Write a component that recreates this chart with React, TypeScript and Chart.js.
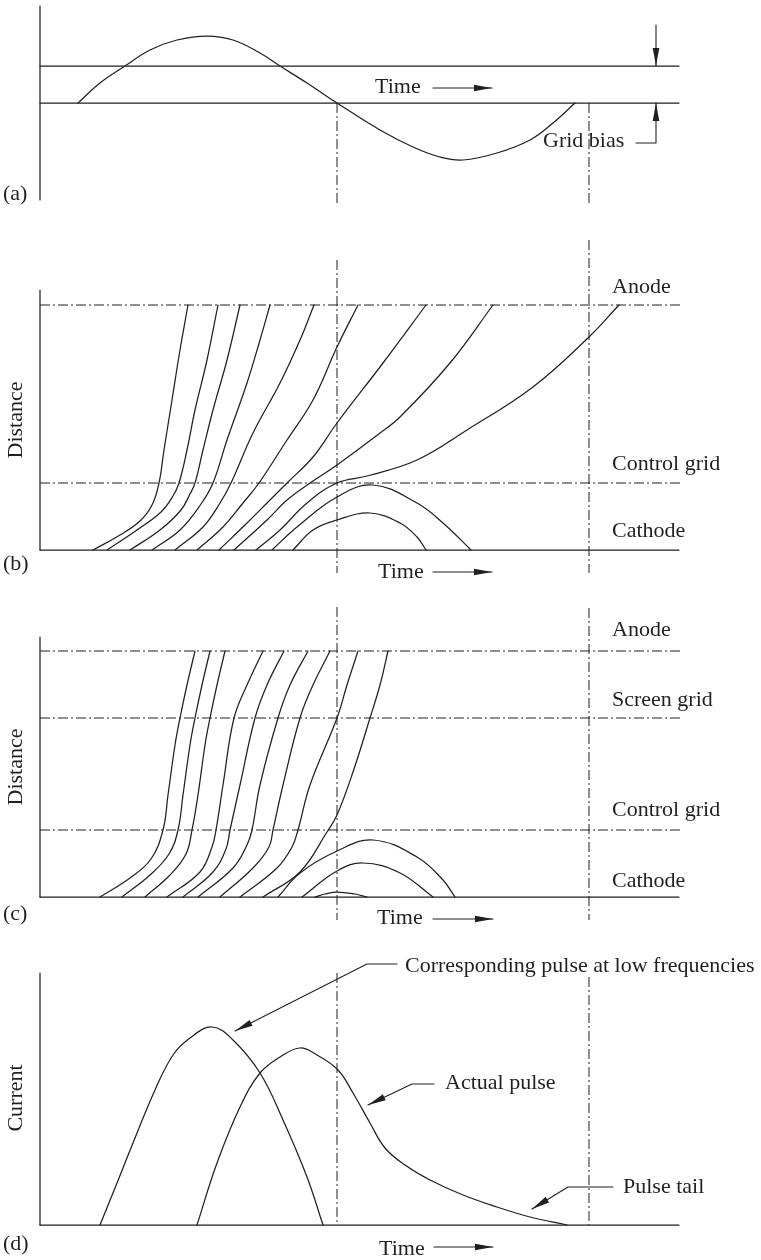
import React, { useEffect, useRef } from "react";
import { Chart, registerables } from "chart.js";

Chart.register(...registerables);

// ---------- shared ----------
const INK = "#231f20";
const FONT = '22px "Liberation Serif", "DejaVu Serif", serif';
const DASH = [10, 3, 2, 3];
const TIME_END = 639; // end of time axis (time units)
const MARKER_TIMES = [297, 549]; // dash-dot time markers

// ---------- panel (a): grid voltage ----------
const gridVoltageA = [
  [38, 0], [60, 20], [85, 37], [110, 53], [137, 63], [167, 67], [193, 63], [220, 50],
  [240, 37], [267, 20], [297, 0], [340, -27], [373, -44], [400, -54], [423, -57],
  [457, -50], [490, -37], [513, -20], [535, 0],
];
const cutoffLevelA = 37;
const biasLevelA = 0;
const axisSpanA = [97, -97];
const markerSpanA = [0, -101];
const arrowDownA = [[616, 78], [616, cutoffLevelA]];
const gridBiasLeaderA = [[596, -40], [616, -40], [616, biasLevelA]];
const timeArrowA = [[393, 15], [452, 15]];

// ---------- panel (b): triode electron trajectories ----------
const anodeB = 245;
const controlB = 67;
const axisTopB = 260;
const markerTopB = [290, 310];
const trajectoriesB = [
  [[53, 0], [80, 15], [100, 29], [112, 45], [119, 67], [124, 100], [132, 150], [140, 200], [148, 245]],
  [[67, 0], [97, 20], [121, 38], [133, 54], [139, 67], [147, 100], [155, 140], [167, 190], [178, 245]],
  [[90, 0], [120, 20], [141, 40], [150, 56], [155, 67], [163, 100], [173, 140], [187, 190], [200, 245]],
  [[112, 0], [140, 20], [161, 46], [173, 67], [187, 110], [207, 167], [220, 210], [230, 245]],
  [[135, 0], [163, 23], [180, 47], [191, 67], [213, 117], [240, 167], [260, 210], [274, 245]],
  [[157, 0], [183, 23], [203, 47], [219, 67], [247, 110], [273, 150], [297, 203], [318, 245]],
  [[179, 0], [207, 27], [227, 47], [247, 67], [273, 93], [297, 127], [343, 187], [386, 245]],
  [[194, 0], [227, 30], [247, 50], [270, 67], [297, 85], [340, 117], [360, 133], [410, 187], [453, 245]],
  [[216, 0], [240, 20], [267, 47], [297, 67], [327, 74], [377, 90], [427, 120], [493, 163], [549, 213], [579, 245]],
];
const returningB = [
  [[232, 0], [257, 23], [297, 53], [333, 65], [377, 47], [403, 27], [431, 0]],
  [[253, 0], [273, 20], [297, 30], [330, 37], [360, 27], [377, 13], [386, 0]],
];
const timeArrowB = [[393, -22], [452, -22]];

// ---------- panel (c): pentode electron trajectories ----------
const anodeC = 246;
const screenC = 179;
const controlC = 67;
const axisTopC = 260;
const markerTopC = [290, 289];
const trajectoriesC = [
  [[60, 0], [90, 19], [111, 38], [123, 67], [128, 102], [135, 152], [140, 179], [147, 212], [155, 246]],
  [[82, 0], [110, 22], [129, 43], [138, 67], [143, 102], [150, 152], [155, 179], [162, 212], [170, 246]],
  [[105, 0], [130, 22], [146, 43], [152, 67], [158, 102], [165, 152], [170, 179], [177, 212], [185, 246]],
  [[127, 0], [160, 25], [172, 50], [176, 67], [183, 112], [194, 179], [207, 212], [223, 246]],
  [[143, 0], [173, 25], [186, 48], [190, 67], [200, 112], [215, 179], [227, 212], [244, 246]],
  [[158, 0], [193, 29], [207, 52], [212, 67], [220, 112], [238, 179], [250, 212], [268, 246]],
  [[180, 0], [213, 29], [229, 50], [233, 67], [243, 112], [260, 179], [273, 212], [290, 246]],
  [[200, 0], [237, 29], [252, 50], [258, 67], [270, 112], [297, 179], [307, 212], [318, 246]],
  [[223, 0], [260, 25], [287, 65], [297, 82], [313, 125], [330, 179], [340, 212], [348, 246]],
];
const returningC = [
  [[238, 0], [260, 24], [297, 46], [333, 57], [377, 40], [403, 17], [415, 0]],
  [[262, 0], [297, 26], [323, 34], [360, 24], [393, 0]],
  [[275, 0], [285, 3], [297, 5], [315, 3], [327, 0]],
];
const timeArrowC = [[393, -22], [453, -22]];

// ---------- panel (d): current pulses ----------
const axisTopD = 252;
const markerTopD = [252, 248];
const lowFreqPulse = [
  [60, 0], [77, 42], [93, 82], [115, 135], [133, 170], [150, 187], [172, 198],
  [193, 185], [220, 152], [243, 105], [267, 48], [283, 0],
];
const actualPulse = [
  [157, 0], [177, 62], [200, 118], [220, 152], [240, 168], [260, 177], [277, 170],
  [298, 155], [313, 132], [330, 102], [345, 77], [365, 60], [390, 45], [423, 30],
  [457, 18], [490, 8], [527, 0],
];
const leaderLowFreq = [[357, 261], [327, 261], [195, 194]];
const leaderActual = [[394, 141], [372, 141], [328, 120]];
const leaderTail = [[573, 38], [528, 38], [492, 16]];
const timeArrowD = [[394, -22], [453, -22]];

// ---------- helpers ----------
type Label = { text: string; x: number; y: number; rotate?: boolean };
const toPts = (arr: number[][]) => arr.map(([x, y]) => ({ x, y }));

const solid = (data: number[][], smooth = false, width = 1.25): any => ({
  data: toPts(data),
  borderColor: INK,
  borderWidth: width,
  pointRadius: 0,
  fill: false,
  tension: smooth ? 0.4 : 0,
  borderCapStyle: "round",
  borderJoinStyle: "round",
});
const dashed = (data: number[][]): any => ({
  ...solid(data, false, 1),
  borderDash: DASH,
  borderCapStyle: "butt",
});
const arrow = (data: number[][]): any => ({ ...solid(data, false, 1.1), arrowHead: true });
const hLine = (v: number) => [[0, v], [TIME_END, v]];
const hDash = (v: number) => [[0, v], [TIME_END + 1, v]];

const arrowPlugin = {
  id: "arrowHeads",
  afterDatasetsDraw(chart: any) {
    const ctx = chart.ctx;
    chart.data.datasets.forEach((ds: any, i: number) => {
      if (!ds.arrowHead) return;
      const pts = chart.getDatasetMeta(i).data;
      const a = pts[pts.length - 2];
      const b = pts[pts.length - 1];
      const ang = Math.atan2(b.y - a.y, b.x - a.x);
      ctx.save();
      ctx.translate(b.x, b.y);
      ctx.rotate(ang);
      ctx.beginPath();
      ctx.moveTo(0, 0);
      ctx.lineTo(-18, -3.3);
      ctx.lineTo(-18, 3.3);
      ctx.closePath();
      ctx.fillStyle = INK;
      ctx.fill();
      ctx.restore();
    });
  },
};

const makeTextPlugin = (labels: Label[]) => ({
  id: "texts",
  afterDatasetsDraw(chart: any) {
    const ctx = chart.ctx;
    const xs = chart.scales.x;
    const ys = chart.scales.y;
    ctx.save();
    ctx.font = FONT;
    ctx.fillStyle = INK;
    ctx.textBaseline = "alphabetic";
    labels.forEach((l) => {
      const px = xs.getPixelForValue(l.x);
      const py = ys.getPixelForValue(l.y);
      if (l.rotate) {
        ctx.save();
        ctx.translate(px, py);
        ctx.rotate(-Math.PI / 2);
        ctx.textAlign = "center";
        ctx.fillText(l.text, 0, 0);
        ctx.restore();
      } else {
        ctx.textAlign = "left";
        ctx.fillText(l.text, px, py);
      }
    });
    ctx.restore();
  },
});

// ---------- panel definitions ----------
const panels = [
  {
    top: 0,
    height: 232,
    yMin: -129,
    yMax: 103,
    datasets: [
      solid([[0, axisSpanA[0]], [0, axisSpanA[1]]]),
      solid(hLine(cutoffLevelA)),
      solid(hLine(biasLevelA)),
      solid(gridVoltageA, true),
      ...MARKER_TIMES.map((t) => dashed([[t, markerSpanA[0]], [t, markerSpanA[1]]])),
      arrow(arrowDownA),
      arrow(gridBiasLeaderA),
      arrow(timeArrowA),
    ],
    labels: [
      { text: "Time", x: 335, y: 10 },
      { text: "Grid bias", x: 503, y: -44 },
      { text: "(a)", x: -37, y: -97 },
    ] as Label[],
  },
  {
    top: 232,
    height: 358,
    yMin: -40,
    yMax: 318,
    datasets: [
      solid([[0, axisTopB], [0, 0]]),
      solid(hLine(0)),
      dashed(hDash(anodeB)),
      dashed(hDash(controlB)),
      ...MARKER_TIMES.map((t, i) => dashed([[t, markerTopB[i]], [t, -23]])),
      ...trajectoriesB.map((d) => solid(d, true)),
      ...returningB.map((d) => solid(d, true)),
      arrow(timeArrowB),
    ],
    labels: [
      { text: "Anode", x: 572, y: 257 },
      { text: "Control grid", x: 572, y: 80 },
      { text: "Cathode", x: 572, y: 13 },
      { text: "Time", x: 338, y: -28 },
      { text: "(b)", x: -37, y: -20 },
      { text: "Distance", x: -18, y: 130, rotate: true },
    ] as Label[],
  },
  {
    top: 590,
    height: 345,
    yMin: -38,
    yMax: 307,
    datasets: [
      solid([[0, axisTopC], [0, 0]]),
      solid(hLine(0)),
      dashed(hDash(anodeC)),
      dashed(hDash(screenC)),
      dashed(hDash(controlC)),
      ...MARKER_TIMES.map((t, i) => dashed([[t, markerTopC[i]], [t, -23]])),
      ...trajectoriesC.map((d) => solid(d, true)),
      ...returningC.map((d) => solid(d, true)),
      arrow(timeArrowC),
    ],
    labels: [
      { text: "Anode", x: 572, y: 261 },
      { text: "Screen grid", x: 572, y: 191 },
      { text: "Control grid", x: 572, y: 81 },
      { text: "Cathode", x: 572, y: 10 },
      { text: "Time", x: 337, y: -27 },
      { text: "(c)", x: -37, y: -23 },
      { text: "Distance", x: -18, y: 130, rotate: true },
    ] as Label[],
  },
  {
    top: 935,
    height: 325,
    yMin: -35,
    yMax: 290,
    datasets: [
      solid([[0, axisTopD], [0, 0]]),
      solid(hLine(0)),
      ...MARKER_TIMES.map((t, i) => dashed([[t, markerTopD[i]], [t, 0]])),
      solid(lowFreqPulse, true),
      solid(actualPulse, true),
      arrow(leaderLowFreq),
      arrow(leaderActual),
      arrow(leaderTail),
      arrow(timeArrowD),
    ],
    labels: [
      { text: "Corresponding pulse at low frequencies", x: 365, y: 253 },
      { text: "Actual pulse", x: 405, y: 136 },
      { text: "Pulse tail", x: 583, y: 32 },
      { text: "Time", x: 339, y: -30 },
      { text: "(d)", x: -37, y: -25 },
      { text: "Current", x: -18, y: 127, rotate: true },
    ] as Label[],
  },
];

function Panel(props: {
  top: number;
  height: number;
  yMin: number;
  yMax: number;
  datasets: any[];
  labels: Label[];
}) {
  const ref = useRef<HTMLCanvasElement>(null);
  useEffect(() => {
    if (!ref.current) return;
    const chart = new Chart(ref.current, {
      type: "line",
      data: { datasets: props.datasets },
      options: {
        animation: false,
        responsive: false,
        maintainAspectRatio: false,
        events: [],
        layout: { padding: 0 },
        plugins: { legend: { display: false }, tooltip: { enabled: false }, title: { display: false } },
        elements: { point: { radius: 0 } },
        scales: {
          x: { type: "linear", min: -40, max: 721, display: false },
          y: { type: "linear", min: props.yMin, max: props.yMax, display: false },
        },
      } as any,
      plugins: [arrowPlugin, makeTextPlugin(props.labels)],
    });
    return () => chart.destroy();
  }, []);
  return (
    <canvas
      ref={ref}
      width={761}
      height={props.height}
      style={{ position: "absolute", left: 0, top: props.top, width: 761, height: props.height }}
    />
  );
}

export default function App() {
  return (
    <div style={{ position: "absolute", left: 0, top: 0, width: 761, height: 1260, background: "#fff" }}>
      {panels.map((p, i) => (
        <Panel key={i} {...p} />
      ))}
    </div>
  );
}
